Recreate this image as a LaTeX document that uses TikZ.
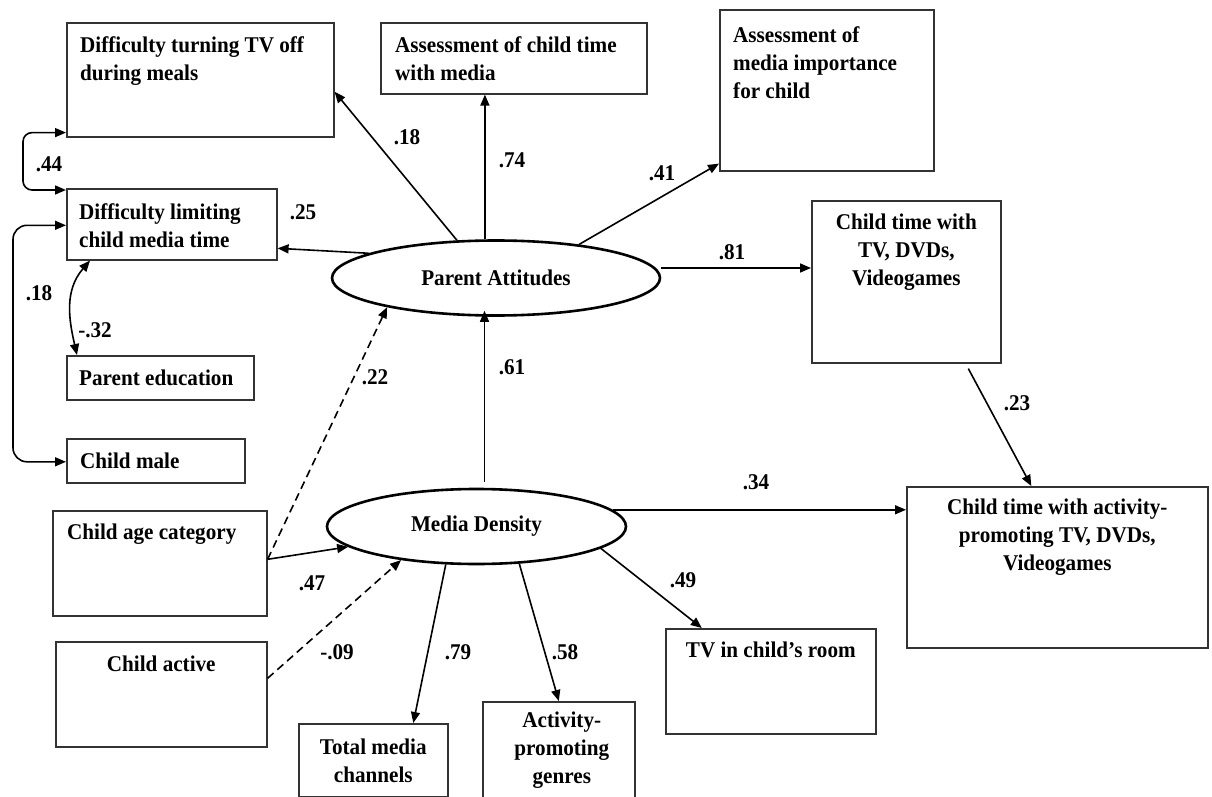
\documentclass[tikz,border=0pt]{standalone}
\usepackage{fontspec}
\setmainfont{Liberation Serif}[FakeStretch=0.94]
\usepackage{xcolor}
\definecolor{ink}{HTML}{333333}
\usetikzlibrary{shapes.geometric, arrows.meta}

\begin{document}
\begin{tikzpicture}[
  x=1pt, y=-1pt,
  font=\fontsize{22.5}{28}\selectfont\bfseries,
  every node/.style={align=center},
  block/.style={rectangle, draw=ink, line width=1.6pt, anchor=north west, inner sep=0pt},
  latent/.style={ellipse, draw=black, line width=2.6pt, inner sep=0pt},
  txt/.style={inner sep=0pt},
  coef/.style={inner sep=0pt},
  arrow/.style={-{Triangle[length=11pt, width=9pt]}, line width=1.6pt},
  dasharrow/.style={arrow, dash pattern=on 8pt off 5pt},
  corr/.style={{Triangle[length=11pt, width=9pt]}-{Triangle[length=11pt, width=9pt]}, line width=1.6pt},
]
  \useasboundingbox (0,0) rectangle (1212,797);

  % latent variables
  \node[latent, minimum width=328pt, minimum height=75pt] (pa) at (496,278) {Parent Attitudes};
  \node[latent, minimum width=299pt, minimum height=75pt] (md) at (476.5,526.5) {Media Density};

  % indicator boxes
  \node[block, minimum width=267pt, minimum height=114pt] (meals) at (66,22) {};
  \node[block, minimum width=210pt, minimum height=71pt] (limit) at (66,188) {};
  \node[block, minimum width=266pt, minimum height=71pt] (asstime) at (380,22) {};
  \node[block, minimum width=214pt, minimum height=161pt] (assimp) at (719,9) {};
  \node[block, minimum width=189pt, minimum height=162pt] (childtv) at (811,200) {};
  \node[block, minimum width=187pt, minimum height=44pt] (pared) at (66,355) {};
  \node[block, minimum width=178pt, minimum height=44pt] (male) at (66,438) {};
  \node[block, minimum width=214pt, minimum height=105pt] (age) at (52,510) {};
  \node[block, minimum width=211pt, minimum height=105pt] (active) at (55,641) {};
  \node[block, minimum width=149pt, minimum height=73pt] (total) at (298,723) {};
  \node[block, minimum width=152pt, minimum height=100pt] (genres) at (482,701) {};
  \node[block, minimum width=210pt, minimum height=105pt] (tv) at (665,628) {};
  \node[block, minimum width=301pt, minimum height=161pt] (activity) at (906,486) {};

  % box texts
  \node[txt, anchor=north west, align=left] (meals-t) at ([xshift=14pt,yshift=-14pt]meals.north west) {Difficulty turning TV off\\during meals};
  \node[txt, anchor=north west, align=left] (limit-t) at ([xshift=13pt,yshift=-15pt]limit.north west) {Difficulty limiting\\child media time};
  \node[txt, anchor=north west, align=left] (asstime-t) at ([xshift=15pt,yshift=-14pt]asstime.north west) {Assessment of child time\\with media};
  \node[txt, anchor=north west, align=left] (assimp-t) at ([xshift=14pt,yshift=-17pt]assimp.north west) {Assessment of\\media importance\\for child};
  \node[txt, anchor=north] (childtv-t) at ([yshift=-14pt]childtv.north) {Child time with\\TV, DVDs,\\Videogames};
  \node[txt, anchor=west] (pared-t) at ([xshift=13pt]pared.west) {Parent education};
  \node[txt, anchor=west] (male-t) at ([xshift=14pt]male.west) {Child male};
  \node[txt, anchor=north west] (age-t) at ([xshift=15pt,yshift=-14pt]age.north west) {Child age category};
  \node[txt, anchor=north] (active-t) at ([yshift=-15pt]active.north) {Child active};
  \node[txt, anchor=north] (total-t) at ([yshift=-16pt]total.north) {Total media\\channels};
  \node[txt, anchor=north] (genres-t) at ([xshift=3pt,yshift=-11pt]genres.north) {Activity-\\promoting\\genres};
  \node[txt, anchor=north] (tv-t) at ([yshift=-14pt]tv.north) {TV in child’s room};
  \node[txt, anchor=north] (activity-t) at ([yshift=-13pt]activity.north) {Child time with activity-\\promoting TV, DVDs,\\Videogames};

  % paths
  \draw[arrow] (pa.136) -- ([yshift=-12pt]meals.east);
  \draw[arrow] (pa.106) -- (pa.106 |- asstime.south);
  \draw[arrow] (pa.22) -- ([yshift=8pt]assimp.south west);
  \draw[arrow] (pa.169) -- ([yshift=-24pt]limit.east);
  \draw[arrow] ([yshift=10pt]pa.east) -- ([yshift=10pt]pa.east -| childtv.west);
  \draw[arrow] ([xshift=62pt,yshift=-5pt]childtv.south) -- ([xshift=-26pt]activity.north);
  \draw[arrow] ([xshift=8pt,yshift=6pt]md.north) -- ([xshift=8pt,yshift=6pt]md.north |- pa.south);
  \draw[arrow] ([yshift=4pt]age.east) -- (md.189);
  \draw[dasharrow] ([yshift=4pt]age.east) -- (pa.195);
  \draw[dasharrow] ([yshift=16pt]active.east) -- (md.204);
  \draw[arrow] (md.231) -- ([xshift=40pt]total.north);
  \draw[arrow] (md.319) -- (genres.north);
  \draw[arrow] (md.350) -- ([xshift=-69pt]tv.north);
  \draw[arrow] (md.7) -- (md.7 -| activity.west);

  % correlations
  \draw[corr, rounded corners=9pt] ([yshift=5pt]meals.south west) -- ++(-43pt,0) |- ([yshift=-2pt]limit.north west);
  \draw[corr, rounded corners=14pt] ([yshift=-1pt]limit.west) -- ++(-53pt,0) |- ([yshift=-1pt]male.west);
  \draw[corr] ([xshift=24pt]limit.south west) .. controls +(-26,30) and +(-8,-35) .. ([xshift=11pt]pared.north west);

  % coefficients
  \node[coef] (c-meals) at (407,137) {.18};
  \node[coef] (c-asstime) at (512,160) {.74};
  \node[coef] (c-assimp) at (662,173) {.41};
  \node[coef] (c-childtv) at (732,252) {.81};
  \node[coef] (c-limit) at (303,212) {.25};
  \node[coef] (c-mealslimit) at (49,164) {.44};
  \node[coef] (c-limitmale) at (39,293) {.18};
  \node[coef] (c-limitpared) at (95,330) {-.32};
  \node[coef] (c-agepa) at (375,377) {.22};
  \node[coef] (c-mdpa) at (512,367) {.61};
  \node[coef] (c-agemd) at (312,583) {.47};
  \node[coef] (c-activemd) at (337,652) {-.09};
  \node[coef] (c-total) at (458,652) {.79};
  \node[coef] (c-genres) at (565,652) {.58};
  \node[coef] (c-tv) at (683,580) {.49};
  \node[coef] (c-activity) at (756,482) {.34};
  \node[coef] (c-tvact) at (1017,403) {.23};
\end{tikzpicture}
\end{document}
